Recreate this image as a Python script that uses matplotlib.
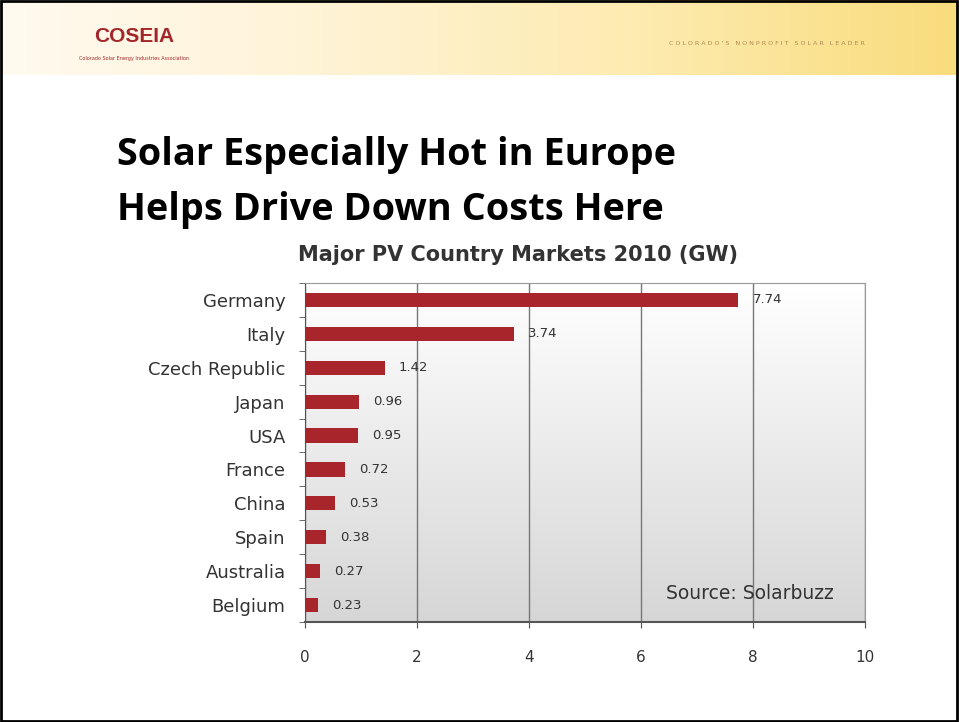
import matplotlib.pyplot as plt
import numpy as np
from matplotlib.patches import Rectangle
from matplotlib.colors import LinearSegmentedColormap

# 数据
countries = ['Germany', 'Italy', 'Czech Republic', 'Japan', 'USA',
             'France', 'China', 'Spain', 'Australia', 'Belgium']
markets_gw = [7.74, 3.74, 1.42, 0.96, 0.95, 0.72, 0.53, 0.38, 0.27, 0.23]
value_labels = ['7.74', '3.74', '1.42', '0.96', '0.95', '0.72', '0.53', '0.38', '0.27', '0.23']
x_ticks = [0, 2, 4, 6, 8, 10]

plt.rcParams['font.family'] = ['DejaVu Sans']

fig = plt.figure(figsize=(9.59, 7.22), dpi=100)
fig.patch.set_facecolor('white')

# 页眉渐变条
hdr = fig.add_axes([0, 1 - 75 / 722, 1, 75 / 722])
grad = np.linspace(0, 1, 256).reshape(1, -1)
hcmap = LinearSegmentedColormap.from_list('hdr', ['#fffaf0', '#fff3d6', '#fdebb0', '#f9dc7c'])
hdr.imshow(grad, aspect='auto', cmap=hcmap, extent=[0, 1, 0, 1])
hdr.set_xlim(0, 1)
hdr.set_ylim(0, 1)
hdr.axis('off')
hdr.text(0.14, 0.52, 'COSEIA', color='#a3262a', fontsize=15, fontweight='bold',
         ha='center', va='center', family='Liberation Sans')
hdr.text(0.14, 0.22, 'Colorado Solar Energy Industries Association', color='#a3262a',
         fontsize=3.5, ha='center', va='center')
hdr.text(0.80, 0.42, "C O L O R A D O ' S   N O N P R O F I T   S O L A R   L E A D E R",
         color='#b08a50', fontsize=4.6, ha='center', va='center')

# 标题
fig.text(117 / 959, 1 - 155 / 722, 'Solar Especially Hot in Europe', fontsize=27.3,
         fontweight='bold', ha='left', va='center', family='Open Sans')
fig.text(117 / 959, 1 - 210 / 722, 'Helps Drive Down Costs Here', fontsize=27.3,
         fontweight='bold', ha='left', va='center', family='Open Sans')

# 图表
ax = fig.add_axes([305 / 959, 1 - 622 / 722, 560 / 959, 339 / 722])
y = np.arange(len(countries))
bg = np.linspace(0, 1, 256).reshape(-1, 1)
bcmap = LinearSegmentedColormap.from_list('bg', ['#ffffff', '#d6d6d6'])
ax.imshow(bg, aspect='auto', cmap=bcmap, extent=[0, 10, len(countries) - 0.5, -0.5],
          zorder=0)
ax.barh(y, markets_gw, height=0.42, color='#a8252b', zorder=3)
for yi, v, lab in zip(y, markets_gw, value_labels):
    ax.text(v + 0.25, yi, lab, fontsize=9.5, color='#333333', va='center', ha='left', zorder=4)

ax.set_xlim(0, 10)
ax.set_ylim(len(countries) - 0.5, -0.5)
ax.set_xticks(x_ticks)
ax.set_xticklabels([str(t) for t in x_ticks], fontsize=11, color='#333333')
ax.set_yticks(y)
ax.set_yticklabels(countries, fontsize=13, color='#333333')
ax.set_yticks(np.arange(-0.5, len(countries), 1), minor=True)
ax.tick_params(axis='y', which='major', length=0, pad=14)
ax.tick_params(axis='y', which='minor', length=4, direction='out', color='#555555')
ax.tick_params(axis='x', length=4, pad=16, color='#555555')
ax.grid(axis='x', color='#777777', linewidth=1, zorder=1)
for s in ax.spines.values():
    s.set_color('#999999')
ax.spines['left'].set_color('#555555')
ax.spines['bottom'].set_color('#555555')
ax.spines['bottom'].set_linewidth(1.5)
ax.text(9.45, 8.65, 'Source: Solarbuzz', fontsize=13.5, color='#333333', ha='right',
        va='center', zorder=4)

fig.text(518 / 959, 1 - 255 / 722, 'Major PV Country Markets 2010 (GW)', fontsize=15,
         fontweight='bold', color='#333333', ha='center', va='center')

# 幻灯片边框
fig.patches.append(Rectangle((0.001, 0.002), 0.997, 0.996, transform=fig.transFigure,
                             fill=False, edgecolor='black', linewidth=2))

plt.savefig('out.png', dpi=100)
